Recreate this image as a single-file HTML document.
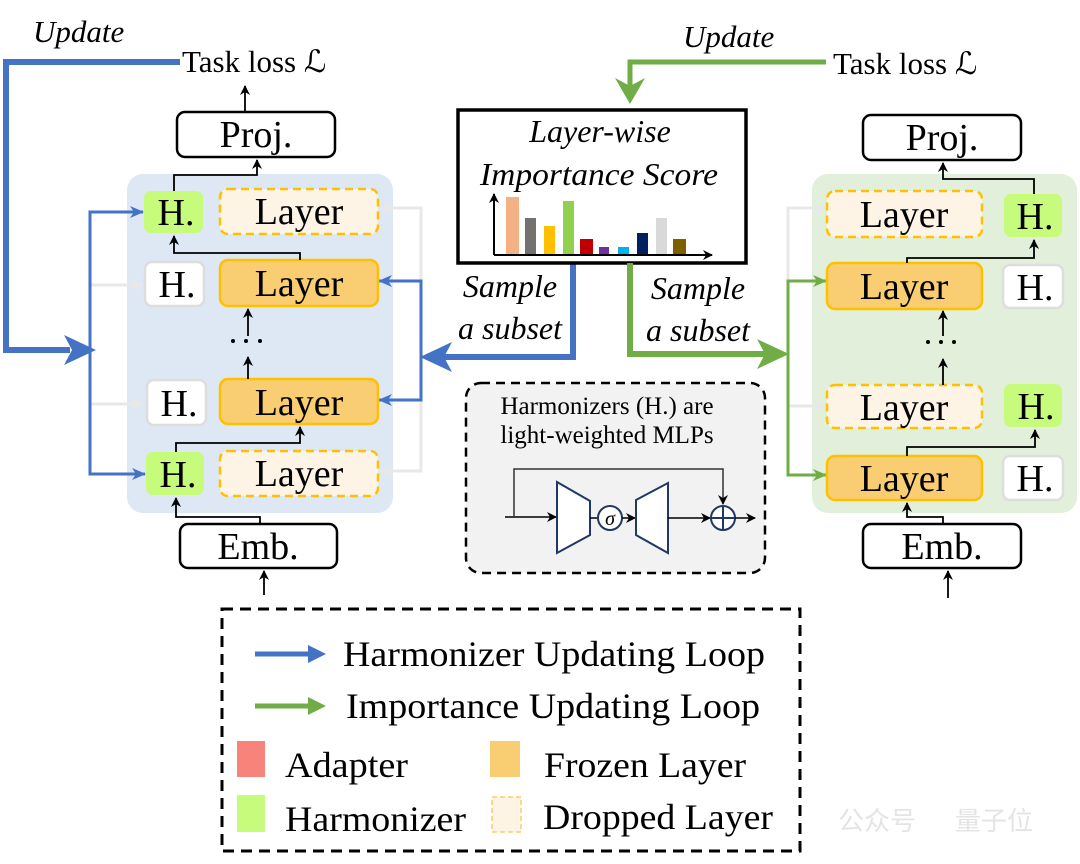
<!DOCTYPE html>
<html><head><meta charset="utf-8"><style>
html,body{margin:0;padding:0;background:#fff;}
svg{display:block;}
text{font-family:"Liberation Serif",serif;fill:#000;}
.it{font-style:italic;}
</style></head><body>
<svg width="1080" height="864" viewBox="0 0 1080 864" xmlns="http://www.w3.org/2000/svg">
<defs>
<marker id="ab" markerWidth="10" markerHeight="10" refX="9" refY="5" orient="auto" markerUnits="userSpaceOnUse"><path d="M0,0 L10,5 L0,10 L3,5 Z" fill="#000"/></marker>
<marker id="abl" markerWidth="14" markerHeight="12" refX="13" refY="6" orient="auto" markerUnits="userSpaceOnUse"><path d="M0,0 L14,6 L0,12 L4,6 Z" fill="#4472c4"/></marker>
<marker id="agr" markerWidth="14" markerHeight="12" refX="13" refY="6" orient="auto" markerUnits="userSpaceOnUse"><path d="M0,0 L14,6 L0,12 L4,6 Z" fill="#70ad47"/></marker>
<marker id="agy" markerWidth="14" markerHeight="12" refX="13" refY="6" orient="auto" markerUnits="userSpaceOnUse"><path d="M0,0 L14,6 L0,12 L4,6 Z" fill="#e8e8e8"/></marker>
</defs>

<!-- LEFT PANEL -->
<rect x="127" y="174" width="266" height="339" rx="16" fill="#dde8f4"/>
<text x="33" y="42" font-size="31" class="it">Update</text>
<text x="182" y="72" font-size="31">Task loss ℒ</text>
<path d="M180,62 H6 V350 H70" fill="none" stroke="#4472c4" stroke-width="6"/>
<path d="M64,335 L96,350 L64,365 L72,350 Z" fill="#4472c4"/>
<rect x="177" y="112" width="158" height="45" rx="8" fill="#fff" stroke="#000" stroke-width="2.5"/>
<text x="256" y="147" font-size="38" text-anchor="middle">Proj.</text>
<line x1="245" y1="112" x2="245" y2="86" stroke="#000" stroke-width="1.8" marker-end="url(#ab)"/>

<path d="M90,285 H142" stroke="#e8e8e8" stroke-width="3" fill="none" marker-end="url(#agy)"/>
<path d="M90,404 H144" stroke="#e8e8e8" stroke-width="3" fill="none" marker-end="url(#agy)"/>
<path d="M380,208 H421 V471 H380" stroke="#e8e8e8" stroke-width="3" fill="none"/>
<line x1="400" y1="208" x2="380" y2="208" stroke="#e8e8e8" stroke-width="3" marker-end="url(#agy)"/>
<line x1="400" y1="471" x2="380" y2="471" stroke="#e8e8e8" stroke-width="3" marker-end="url(#agy)"/>
<path d="M142,212 H90 V474 H144" stroke="#4472c4" stroke-width="3" fill="none"/>
<line x1="110" y1="212" x2="143" y2="212" stroke="#4472c4" stroke-width="3" marker-end="url(#abl)"/>
<line x1="110" y1="474" x2="145" y2="474" stroke="#4472c4" stroke-width="3" marker-end="url(#abl)"/>
<path d="M380,281 H421 V400 H380" stroke="#4472c4" stroke-width="3" fill="none"/>
<line x1="400" y1="281" x2="379" y2="281" stroke="#4472c4" stroke-width="3" marker-end="url(#abl)"/>
<line x1="400" y1="400" x2="379" y2="400" stroke="#4472c4" stroke-width="3" marker-end="url(#abl)"/>
<path d="M573,263 V357 H440" stroke="#4472c4" stroke-width="6" fill="none"/>
<path d="M452,342 L420,357 L452,372 L444,357 Z" fill="#4472c4"/>

<rect x="144" y="191" width="59" height="42" rx="7" fill="#c6fb7b"/>
<text x="176" y="225" font-size="38" text-anchor="middle">H.</text>
<rect x="220" y="189" width="158" height="45" rx="8" fill="#fdf4e6" stroke="#ffc000" stroke-width="2.5" stroke-dasharray="8,5"/>
<text x="299" y="224" font-size="38" text-anchor="middle">Layer</text>
<rect x="145" y="262" width="59" height="44" rx="7" fill="#fff" stroke="#ddd" stroke-width="2.5"/>
<text x="177" y="297" font-size="38" text-anchor="middle">H.</text>
<rect x="220" y="260" width="158" height="46" rx="8" fill="#f9cd72" stroke="#ffc000" stroke-width="2.5"/>
<text x="299" y="296" font-size="38" text-anchor="middle">Layer</text>
<rect x="147" y="380" width="59" height="45" rx="7" fill="#fff" stroke="#ddd" stroke-width="2.5"/>
<text x="179" y="416" font-size="38" text-anchor="middle">H.</text>
<rect x="220" y="379" width="158" height="45" rx="8" fill="#f9cd72" stroke="#ffc000" stroke-width="2.5"/>
<text x="299" y="415" font-size="38" text-anchor="middle">Layer</text>
<rect x="146" y="452" width="58" height="43" rx="7" fill="#c6fb7b"/>
<text x="178" y="487" font-size="38" text-anchor="middle">H.</text>
<rect x="220" y="451" width="158" height="45" rx="8" fill="#fdf4e6" stroke="#ffc000" stroke-width="2.5" stroke-dasharray="8,5"/>
<text x="299" y="486" font-size="38" text-anchor="middle">Layer</text>

<path d="M174,191 V175 H257 V160" fill="none" stroke="#000" stroke-width="1.8" marker-end="url(#ab)"/>
<path d="M300,260 V253 H174 V236" fill="none" stroke="#000" stroke-width="1.8" marker-end="url(#ab)"/>
<line x1="248" y1="336" x2="248" y2="309" stroke="#000" stroke-width="1.8" marker-end="url(#ab)"/>
<line x1="248" y1="379" x2="248" y2="357" stroke="#000" stroke-width="1.8" marker-end="url(#ab)"/>
<circle cx="233" cy="341" r="2"/><circle cx="246" cy="341" r="2"/><circle cx="260" cy="341" r="2"/>
<path d="M176,452 V443 H300 V427" fill="none" stroke="#000" stroke-width="1.8" marker-end="url(#ab)"/>
<rect x="180" y="524" width="157" height="44" rx="8" fill="#fff" stroke="#000" stroke-width="2.5"/>
<text x="258" y="559" font-size="38" text-anchor="middle">Emb.</text>
<path d="M260,524 V517 H176 V498" fill="none" stroke="#000" stroke-width="1.8" marker-end="url(#ab)"/>
<line x1="264" y1="595" x2="264" y2="571" stroke="#000" stroke-width="1.8" marker-end="url(#ab)"/>

<!-- CENTER -->
<text x="683" y="47" font-size="31" class="it">Update</text>
<text x="833" y="74" font-size="31">Task loss ℒ</text>
<path d="M826,62 H630 V88" stroke="#70ad47" stroke-width="5" fill="none"/>
<path d="M615,78 L630,104 L645,78 L630,86 Z" fill="#70ad47"/>
<rect x="458" y="110" width="288" height="153" fill="#fff" stroke="#000" stroke-width="3.5"/>
<text x="600" y="142" font-size="32" class="it" text-anchor="middle">Layer-wise</text>
<text x="599" y="185" font-size="32" class="it" text-anchor="middle" textLength="238" lengthAdjust="spacingAndGlyphs">Importance Score</text>
<rect x="506" y="197" width="13" height="57" fill="#f4b183"/>
<rect x="525" y="218" width="11" height="36" fill="#767171"/>
<rect x="544" y="226" width="11" height="28" fill="#ffc000"/>
<rect x="563" y="201" width="11" height="53" fill="#92d050"/>
<rect x="580" y="239" width="13" height="15" fill="#c00000"/>
<rect x="599" y="247" width="10" height="7" fill="#7030a0"/>
<rect x="618" y="247" width="11" height="7" fill="#00b0f0"/>
<rect x="637" y="233" width="11" height="21" fill="#002060"/>
<rect x="656" y="218" width="11" height="36" fill="#d9d9d9"/>
<rect x="673" y="239" width="13" height="15" fill="#7f6000"/>
<line x1="494" y1="255" x2="494" y2="194" stroke="#000" stroke-width="2" marker-end="url(#ab)"/>
<line x1="494" y1="255" x2="712" y2="255" stroke="#000" stroke-width="2" marker-end="url(#ab)"/>

<text x="510" y="297" font-size="32" class="it" text-anchor="middle">Sample</text>
<text x="510" y="339" font-size="32" class="it" text-anchor="middle">a subset</text>
<text x="698" y="299" font-size="32" class="it" text-anchor="middle">Sample</text>
<text x="698" y="341" font-size="32" class="it" text-anchor="middle">a subset</text>

<path d="M630,263 V354 H770" stroke="#70ad47" stroke-width="6" fill="none"/>
<path d="M757,339 L789,354 L757,369 L765,354 Z" fill="#70ad47"/>

<rect x="466" y="383" width="299" height="190" rx="15" fill="#f2f2f2" stroke="#000" stroke-width="2.5" stroke-dasharray="9,6"/>
<text x="607" y="414" font-size="25" text-anchor="middle">Harmonizers (H.) are</text>
<text x="607" y="443" font-size="25" text-anchor="middle">light-weighted MLPs</text>
<line x1="505" y1="517" x2="556" y2="517" stroke="#000" stroke-width="1.5" marker-end="url(#ab)"/>
<path d="M514,517 V469 H723 V504" fill="none" stroke="#333" stroke-width="1.5" marker-end="url(#ab)"/>
<path d="M557,482 L590,501 L590,535 L557,553 Z" fill="#fff" stroke="#1f3864" stroke-width="2"/>
<line x1="590" y1="518" x2="598" y2="518" stroke="#000" stroke-width="1.5"/>
<circle cx="610" cy="518" r="12" fill="#fff" stroke="#1f3864" stroke-width="2"/>
<text x="610" y="525" font-size="20" class="it" text-anchor="middle">σ</text>
<line x1="622" y1="518" x2="635" y2="518" stroke="#000" stroke-width="1.5" marker-end="url(#ab)"/>
<path d="M636,500 L668,483 L668,553 L636,535 Z" fill="#fff" stroke="#1f3864" stroke-width="2"/>
<line x1="668" y1="518" x2="710" y2="518" stroke="#000" stroke-width="1.5" marker-end="url(#ab)"/>
<circle cx="723" cy="518" r="12" fill="#fff" stroke="#1f3864" stroke-width="2"/>
<line x1="711" y1="518" x2="735" y2="518" stroke="#1f3864" stroke-width="2"/>
<line x1="723" y1="506" x2="723" y2="530" stroke="#1f3864" stroke-width="2"/>
<line x1="735" y1="518" x2="755" y2="518" stroke="#000" stroke-width="1.5" marker-end="url(#ab)"/>

<!-- RIGHT PANEL -->
<rect x="812" y="174" width="265" height="339" rx="16" fill="#e2efda"/>
<rect x="863" y="115" width="158" height="45" rx="8" fill="#fff" stroke="#000" stroke-width="2.5"/>
<text x="942" y="150" font-size="38" text-anchor="middle">Proj.</text>
<path d="M824,208 H788 V406 H824" stroke="#e8e8e8" stroke-width="3" fill="none"/>
<line x1="805" y1="208" x2="826" y2="208" stroke="#e8e8e8" stroke-width="3" marker-end="url(#agy)"/>
<line x1="805" y1="406" x2="826" y2="406" stroke="#e8e8e8" stroke-width="3" marker-end="url(#agy)"/>
<path d="M824,281 H788 V475 H824" stroke="#70ad47" stroke-width="3" fill="none"/>
<line x1="805" y1="281" x2="826" y2="281" stroke="#70ad47" stroke-width="3" marker-end="url(#agr)"/>
<line x1="805" y1="475" x2="826" y2="475" stroke="#70ad47" stroke-width="3" marker-end="url(#agr)"/>

<rect x="827" y="191" width="155" height="46" rx="8" fill="#fdf4e6" stroke="#ffc000" stroke-width="2.5" stroke-dasharray="8,5"/>
<text x="904" y="227" font-size="38" text-anchor="middle">Layer</text>
<rect x="1004" y="194" width="58" height="43" rx="7" fill="#c6fb7b"/>
<text x="1035" y="229" font-size="38" text-anchor="middle">H.</text>
<rect x="827" y="263" width="155" height="46" rx="8" fill="#f9cd72" stroke="#ffc000" stroke-width="2.5"/>
<text x="904" y="299" font-size="38" text-anchor="middle">Layer</text>
<rect x="1003" y="265" width="60" height="43" rx="7" fill="#fff" stroke="#ddd" stroke-width="2.5"/>
<text x="1035" y="300" font-size="38" text-anchor="middle">H.</text>
<rect x="827" y="385" width="155" height="43" rx="8" fill="#fdf4e6" stroke="#ffc000" stroke-width="2.5" stroke-dasharray="8,5"/>
<text x="904" y="420" font-size="38" text-anchor="middle">Layer</text>
<rect x="1004" y="384" width="58" height="43" rx="7" fill="#c6fb7b"/>
<text x="1036" y="419" font-size="38" text-anchor="middle">H.</text>
<rect x="827" y="456" width="155" height="44" rx="8" fill="#f9cd72" stroke="#ffc000" stroke-width="2.5"/>
<text x="904" y="491" font-size="38" text-anchor="middle">Layer</text>
<rect x="1003" y="456" width="60" height="44" rx="7" fill="#fff" stroke="#ddd" stroke-width="2.5"/>
<text x="1035" y="491" font-size="38" text-anchor="middle">H.</text>

<path d="M1034,194 V179 H943 V163" fill="none" stroke="#000" stroke-width="1.8" marker-end="url(#ab)"/>
<path d="M907,263 V258 H1034 V240" fill="none" stroke="#000" stroke-width="1.8" marker-end="url(#ab)"/>
<line x1="943" y1="336" x2="943" y2="311" stroke="#000" stroke-width="1.8" marker-end="url(#ab)"/>
<line x1="943" y1="385" x2="943" y2="359" stroke="#000" stroke-width="1.8" marker-end="url(#ab)"/>
<circle cx="928" cy="342" r="2"/><circle cx="941" cy="342" r="2"/><circle cx="954" cy="342" r="2"/>
<path d="M907,456 V447 H1035 V430" fill="none" stroke="#000" stroke-width="1.8" marker-end="url(#ab)"/>
<rect x="863" y="524" width="158" height="44" rx="8" fill="#fff" stroke="#000" stroke-width="2.5"/>
<text x="942" y="559" font-size="38" text-anchor="middle">Emb.</text>
<path d="M943,524 V517 H907 V503" fill="none" stroke="#000" stroke-width="1.8" marker-end="url(#ab)"/>
<line x1="948" y1="598" x2="948" y2="571" stroke="#000" stroke-width="1.8" marker-end="url(#ab)"/>

<!-- LEGEND -->
<rect x="222" y="609" width="578" height="242" fill="#fff" stroke="#000" stroke-width="3" stroke-dasharray="11,7"/>
<line x1="255" y1="654" x2="312" y2="654" stroke="#4472c4" stroke-width="5"/>
<path d="M308,645 L326,654 L308,663 Z" fill="#4472c4"/>
<text x="343" y="666" font-size="36" textLength="422" lengthAdjust="spacingAndGlyphs">Harmonizer Updating Loop</text>
<line x1="255" y1="706" x2="312" y2="706" stroke="#70ad47" stroke-width="5"/>
<path d="M308,697 L326,706 L308,715 Z" fill="#70ad47"/>
<text x="346" y="718" font-size="36" textLength="414" lengthAdjust="spacingAndGlyphs">Importance Updating Loop</text>
<rect x="237" y="741" width="28" height="36" fill="#f8837b"/>
<text x="285" y="777" font-size="36" textLength="123" lengthAdjust="spacingAndGlyphs">Adapter</text>
<rect x="490" y="741" width="30" height="36" fill="#f9cd72"/>
<text x="544" y="777" font-size="36" textLength="202" lengthAdjust="spacingAndGlyphs">Frozen Layer</text>
<rect x="237" y="795" width="28" height="37" fill="#c6fb7b"/>
<text x="285" y="831" font-size="36" textLength="181" lengthAdjust="spacingAndGlyphs">Harmonizer</text>
<rect x="492" y="797" width="29" height="35" fill="#fdf4e6" stroke="#f9cd72" stroke-width="1.5" stroke-dasharray="5,3"/>
<text x="543" y="829" font-size="36" textLength="230" lengthAdjust="spacingAndGlyphs">Dropped Layer</text>

<text x="838" y="830" font-size="26" style="font-family:'Noto Sans CJK SC',sans-serif;fill:#e4e4e4">公众号</text>
<text x="955" y="830" font-size="26" style="font-family:'Noto Sans CJK SC',sans-serif;fill:#e4e4e4">量子位</text>
</svg>
</body></html>
